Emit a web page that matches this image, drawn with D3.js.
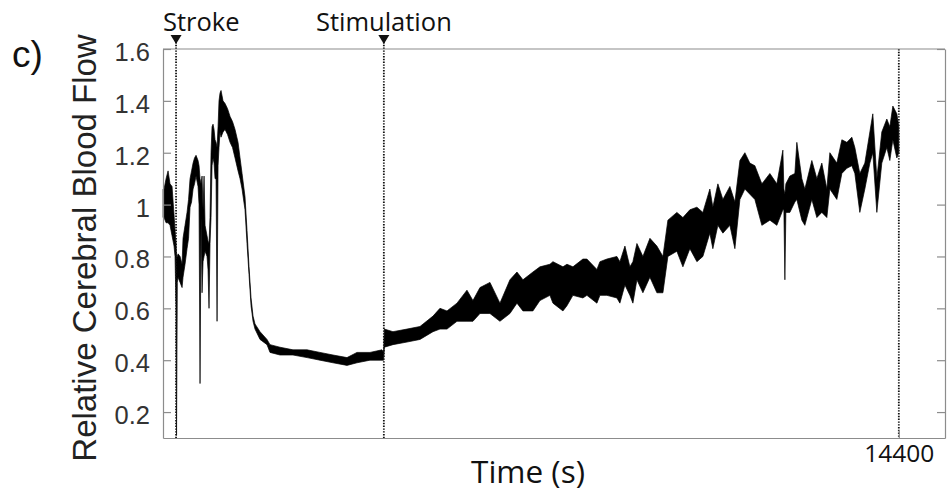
<!DOCTYPE html>
<html>
<head>
<meta charset="utf-8">
<script src="https://cdn.jsdelivr.net/npm/d3@7"></script>
<style>
  body { margin: 0; background: #fff; }
  svg { display: block; }
</style>
</head>
<body>
<script>

// time in seconds, stroke onset at 0
var timeS = [-259, -239, -199, -159, -120, -80, -40, -20, 0, 10, 25, 40, 80, 120, 139, 179, 219, 249, 279, 309,
    339, 368, 398, 438, 458, 478, 498, 518, 538, 558, 578, 617, 637, 657, 677, 697, 717, 737, 757, 777,
    797, 817, 837, 856, 876, 896, 936, 976, 1026, 1076, 1125, 1175, 1235, 1275, 1315, 1374, 1414, 1454, 1494, 1534,
    1573, 1673, 1812, 1872, 2071, 2330, 2609, 2868, 3127, 3406, 3605, 3864, 4103, 4135, 4150, 4322, 4601, 4860, 5119, 5258,
    5398, 5597, 5796, 5915, 6055, 6254, 6453, 6652, 6792, 6911, 7110, 7250, 7449, 7509, 7708, 7788, 7907, 8106, 8186, 8385,
    8445, 8584, 8783, 8843, 8943, 9042, 9102, 9182, 9301, 9441, 9580, 9700, 9799, 9978, 10098, 10237, 10377, 10496, 10635, 10695,
    10795, 10895, 11034, 11134, 11234, 11333, 11432, 11532, 11671, 11831, 11970, 12090, 12110, 12130, 12150, 12229, 12329, 12368, 12468, 12528,
    12667, 12767, 12866, 12966, 13026, 13165, 13265, 13365, 13464, 13524, 13623, 13723, 13823, 13882, 13962, 14061, 14161, 14221, 14281, 14360,
    14400];

var flowLo = [0.95, 0.95, 0.93, 0.93, 0.92, 0.88, 0.84, 0.80, 0.60, 0.11, 0.70, 0.72, 0.70, 0.68, 0.72, 0.77, 0.83, 0.87, 0.99, 1.01,
    1.06, 1.08, 1.11, 1.07, 1.00, 0.31, 0.95, 0.66, 0.78, 0.80, 0.82, 0.80, 0.75, 0.60, 0.85, 0.95, 1.15, 1.18, 1.16, 1.10,
    1.10, 0.55, 1.15, 1.22, 1.28, 1.26, 1.28, 1.29, 1.27, 1.24, 1.22, 1.18, 1.13, 1.10, 1.06, 0.98, 0.85, 0.73, 0.61, 0.55,
    0.52, 0.48, 0.46, 0.43, 0.42, 0.42, 0.41, 0.40, 0.39, 0.38, 0.39, 0.40, 0.40, 0.40, 0.45, 0.46, 0.47, 0.48, 0.51, 0.52,
    0.52, 0.55, 0.55, 0.55, 0.58, 0.58, 0.55, 0.58, 0.62, 0.59, 0.59, 0.63, 0.65, 0.62, 0.59, 0.61, 0.65, 0.64, 0.65, 0.62,
    0.65, 0.65, 0.64, 0.62, 0.69, 0.65, 0.62, 0.71, 0.66, 0.72, 0.66, 0.66, 0.80, 0.82, 0.76, 0.83, 0.78, 0.80, 0.89, 0.83,
    0.92, 0.89, 0.92, 0.83, 1.02, 1.06, 1.04, 1.02, 0.92, 0.94, 0.92, 0.98, 0.98, 0.71, 0.97, 0.97, 1.01, 1.02, 0.94, 0.92,
    1.02, 0.95, 0.97, 0.95, 1.06, 1.02, 1.12, 1.14, 1.15, 1.12, 0.97, 1.06, 1.16, 1.20, 0.97, 1.16, 1.22, 1.17, 1.25, 1.18,
    1.20];

var flowHi = [1.06, 1.06, 1.10, 1.13, 1.08, 1.07, 0.96, 0.90, 0.85, 0.80, 0.80, 0.81, 0.80, 0.77, 0.87, 0.92, 0.97, 1.02, 1.10, 1.13,
    1.16, 1.18, 1.19, 1.17, 1.15, 1.10, 1.08, 1.11, 0.98, 1.11, 0.92, 0.88, 0.86, 0.85, 0.95, 1.20, 1.30, 1.31, 1.29, 1.25,
    1.24, 1.22, 1.30, 1.40, 1.43, 1.44, 1.40, 1.39, 1.37, 1.34, 1.32, 1.29, 1.24, 1.18, 1.12, 1.03, 0.90, 0.76, 0.64, 0.57,
    0.54, 0.51, 0.48, 0.46, 0.45, 0.44, 0.44, 0.43, 0.42, 0.41, 0.43, 0.43, 0.44, 0.43, 0.52, 0.51, 0.52, 0.53, 0.57, 0.60,
    0.59, 0.62, 0.67, 0.63, 0.68, 0.70, 0.62, 0.71, 0.74, 0.71, 0.74, 0.76, 0.77, 0.78, 0.76, 0.77, 0.76, 0.79, 0.79, 0.75,
    0.78, 0.79, 0.80, 0.78, 0.84, 0.76, 0.78, 0.85, 0.80, 0.87, 0.84, 0.80, 0.94, 0.97, 0.95, 0.98, 0.99, 0.97, 1.06, 0.99,
    1.08, 1.02, 1.07, 1.01, 1.17, 1.20, 1.16, 1.15, 1.08, 1.12, 1.08, 1.21, 1.06, 1.04, 1.08, 1.11, 1.12, 1.24, 1.10, 1.06,
    1.17, 1.10, 1.16, 1.06, 1.20, 1.16, 1.25, 1.24, 1.26, 1.22, 1.12, 1.16, 1.28, 1.35, 1.10, 1.28, 1.33, 1.30, 1.38, 1.35,
    1.30];

var yTicks = [0.2, 0.4, 0.6, 0.8, 1, 1.2, 1.4, 1.6];
var xTicks = [14400];
var events = [{name: "Stroke", t: 0}, {name: "Stimulation", t: 4140}];
var endTime = 14400;

var data = timeS.map(function(t, i) { return {t: t, lo: flowLo[i], hi: flowHi[i]}; });

var W = 948, H = 496;
// plot box (don't call it "top", window.top is read only)
var box = {left: 163, right: 945, top: 49, bottom: 438};

var svg = d3.select("body").append("svg")
    .attr("width", W)
    .attr("height", H);

var x = d3.scaleLinear().domain([-260, 15320]).range([box.left, box.right]);
var y = d3.scaleLinear().domain([0.1, 1.6]).range([box.bottom, box.top]);

var frameColor = "#8c8c8c";

// trace, drawn as the min/max band of the recording
var band = d3.area()
    .x(function(d) { return x(d.t); })
    .y0(function(d) { return y(d.lo); })
    .y1(function(d) { return y(d.hi); });

svg.append("path")
    .datum(data)
    .attr("d", band)
    .attr("fill", "#000")
    .attr("stroke", "#000")
    .attr("stroke-width", 0.7)
    .attr("stroke-linejoin", "round");

// dotted event lines
var markers = events.map(function(e) { return e.t; }).concat([endTime]);
svg.selectAll(".evline")
    .data(markers)
    .enter().append("line")
    .attr("class", "evline")
    .attr("x1", function(d) { return x(d); })
    .attr("x2", function(d) { return x(d); })
    .attr("y1", function(d, i) { return i < events.length ? 42 : box.top; })
    .attr("y2", box.bottom)
    .attr("stroke", "#111")
    .attr("stroke-width", 1.8)
    .attr("stroke-dasharray", "1.4,1.4");

// axes
var yAxis = d3.axisLeft(y)
    .tickValues(yTicks)
    .tickSize(-8)
    .tickSizeOuter(0)
    .tickPadding(13)
    .tickFormat(function(d) { return String(+d.toFixed(1)); });

var gy = svg.append("g").attr("transform", "translate(" + box.left + ",0)").call(yAxis);
gy.selectAll("text")
    .attr("dy", "0.45em")
    .style("font-family", "'Liberation Sans', Arial, sans-serif")
    .style("font-size", "25.5px")
    .attr("fill", "#333");

svg.append("g").attr("transform", "translate(" + box.right + ",0)")
    .call(d3.axisRight(y).tickValues(yTicks).tickSize(-8).tickSizeOuter(0).tickFormat(""));

var gx = svg.append("g").attr("transform", "translate(0," + box.bottom + ")")
    .call(d3.axisBottom(x).tickValues(xTicks).tickSize(-8).tickSizeOuter(0).tickPadding(7)
        .tickFormat(d3.format("d")));
gx.selectAll("text")
    .style("font-family", "'Open Sans', sans-serif")
    .style("font-size", "24.5px")
    .attr("fill", "#111");

svg.append("line")
    .attr("x1", box.left).attr("x2", box.right)
    .attr("y1", box.top).attr("y2", box.top);

svg.selectAll(".domain, .tick line, line:not(.evline)")
    .attr("stroke", frameColor)
    .attr("stroke-width", 1.2);

// event arrows and labels
svg.selectAll(".arrow")
    .data(events)
    .enter().append("path")
    .attr("class", "arrow")
    .attr("d", function(d) {
        var cx = x(d.t);
        return "M" + (cx - 5.5) + ",35 L" + (cx + 5.5) + ",35 L" + cx + ",44 Z";
    })
    .attr("fill", "#111");

svg.selectAll(".evlabel")
    .data(events)
    .enter().append("text")
    .attr("class", "evlabel")
    .attr("x", function(d, i) { return i === 0 ? box.left : x(d.t); })
    .attr("y", 31)
    .attr("text-anchor", function(d, i) { return i === 0 ? "start" : "middle"; })
    .style("font-family", "'Open Sans', sans-serif")
    .style("font-size", "25.5px")
    .attr("fill", "#111")
    .text(function(d) { return d.name; });

// titles
svg.append("text")
    .attr("transform", "translate(96,248) rotate(-90)")
    .attr("text-anchor", "middle")
    .style("font-family", "'Liberation Sans', Arial, sans-serif")
    .style("font-size", "33px")
    .attr("fill", "#222")
    .text("Relative Cerebral Blood Flow");

svg.append("text")
    .attr("x", 528)
    .attr("y", 483)
    .attr("text-anchor", "middle")
    .style("font-family", "'Open Sans', sans-serif")
    .style("font-size", "31.5px")
    .attr("fill", "#111")
    .text("Time (s)");

svg.append("text")
    .attr("x", 12)
    .attr("y", 67)
    .style("font-family", "'Liberation Sans', Arial, sans-serif")
    .style("font-size", "37px")
    .attr("fill", "#111")
    .text("c)");

</script>
</body>
</html>
